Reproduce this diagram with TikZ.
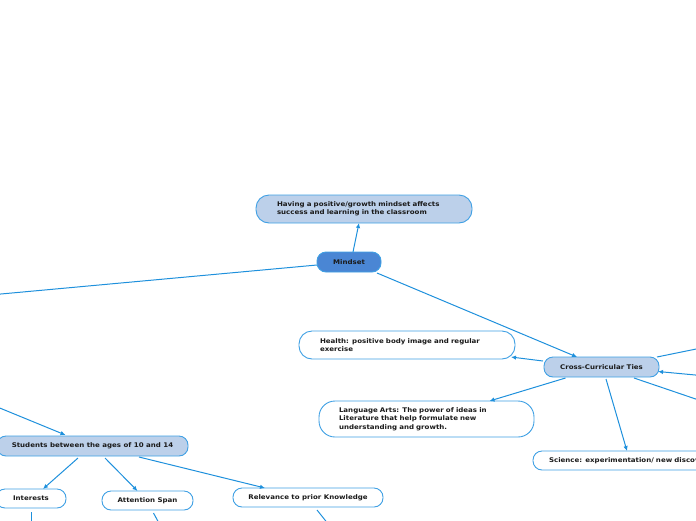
\documentclass[tikz,border=0pt]{standalone}
\usepackage{fontspec}
\setmainfont[FakeStretch=1.1]{DejaVu Sans}
\usetikzlibrary{arrows.meta,calc}
\definecolor{edgec}{HTML}{1E90DC}
\definecolor{bordc}{HTML}{3FA0E4}
\definecolor{lightf}{HTML}{BCD0EA}
\definecolor{mindf}{HTML}{4A86D4}
\definecolor{txtc}{HTML}{1A1A1A}
\tikzset{
  box/.style={draw=bordc, line width=0.9pt, fill=white, text=txtc,
    font=\fontsize{6.4}{8.4}\selectfont\bfseries, inner sep=0pt, outer sep=0pt,
    rounded corners=9pt},
  leftbox/.style={box, align=left, inner xsep=#1, text width={\boxw-2*#1}},
  conn/.style={draw=edgec, line width=1pt},
  arr/.style={conn, -{Latex[length=5pt,width=4.5pt]}},
}
\newlength{\boxw}
\begin{document}
\begin{tikzpicture}[x=1pt,y=-1pt]
\useasboundingbox (0,0) rectangle (696,520);
\clip (0,0) rectangle (696,520);
% nodes
\setlength{\boxw}{216pt}
\node[leftbox=21pt, fill=lightf, minimum width=216pt, minimum height=28pt, rounded corners=13pt] (pos) at (364,209)
  {Having a positive/growth mindset affects\\success and learning in the classroom};
\node[box, fill=mindf, minimum width=64pt, minimum height=20pt] (mind) at (349,262) {Mindset};
\node[leftbox=21pt, minimum width=216pt, minimum height=28pt, rounded corners=13pt] (health) at (407,345)
  {Health: positive body image and regular\\exercise};
\setlength{\boxw}{215pt}
\node[leftbox=20pt, minimum width=215pt, minimum height=36pt, rounded corners=16pt] (lang) at (426.5,419)
  {Language Arts: The power of ideas in\\Literature that help formulate new\\understanding and growth.};
\node[box, fill=lightf, minimum width=115pt, minimum height=20pt] (cross) at (601.5,367) {Cross-Curricular Ties};
\setlength{\boxw}{240pt}
\node[leftbox=16pt, minimum width=240pt, minimum height=19pt] (sci) at (653,460.5)
  {Science: experimentation/ new discoveries};
\node[box, fill=lightf, minimum width=191pt, minimum height=20pt] (stud) at (92.5,446) {Students between the ages of 10 and 14};
\node[box, minimum width=70pt, minimum height=19pt] (inter) at (31,498.5) {Interests};
\node[box, minimum width=91pt, minimum height=19pt] (att) at (147.5,500.5) {Attention Span};
\node[box, minimum width=150pt, minimum height=19pt] (rel) at (308,497.5) {Relevance to prior Knowledge};
% off-canvas ends
\coordinate (offL) at (-10,295);
\coordinate (offR1) at (706,347);
\coordinate (offR2) at (706,376);
\coordinate (offR3) at (706,402.5);
\coordinate (offSL) at (-10,404);
\coordinate (offI) at (31,530);
\coordinate (offA) at (162.7,530);
\coordinate (offRel) at (333,530);
% connectors
\draw[arr] ($(mind.north)+(4,0)$) -- ($(pos.south)+(-5,0)$);
\draw[conn] ($(mind.west)+(0,3)$) -- (offL);
\draw[arr] ($(mind.south east)+(-4,1)$) -- ($(cross.north)+(-24.5,0)$);
\draw[arr] ($(cross.west)+(-1,-6)$) -- ($(health.south east)+(-4,-2)$);
\draw[arr] ($(cross.south)+(-36,1)$) -- ($(lang.north)+(63,0)$);
\draw[arr] ($(cross.south)+(4.5,2)$) -- ($(sci.north west)+(94,0)$);
\draw[conn] ($(cross.north east)+(-2,0)$) -- (offR1);
\draw[arr] (offR2) -- ($(cross.east)+(-1,4.5)$);
\draw[conn] ($(cross.south)+(32.5,1)$) -- (offR3);
\draw[arr] (offSL) -- ($(stud.north)+(-27,-1)$);
\draw[arr] ($(stud.south)+(-14.5,2)$) -- ($(inter.north)+(12,0)$);
\draw[arr] ($(stud.south)+(12.5,2)$) -- ($(att.north)+(-10,0)$);
\draw[arr] ($(stud.south)+(46.5,1)$) -- ($(rel.north)+(-43,0)$);
\draw[conn] ($(inter.south)+(0,4)$) -- (offI);
\draw[conn] ($(att.south)+(6,3)$) -- (offA);
\draw[conn] ($(rel.south)+(9,3)$) -- (offRel);
\end{tikzpicture}
\end{document}
